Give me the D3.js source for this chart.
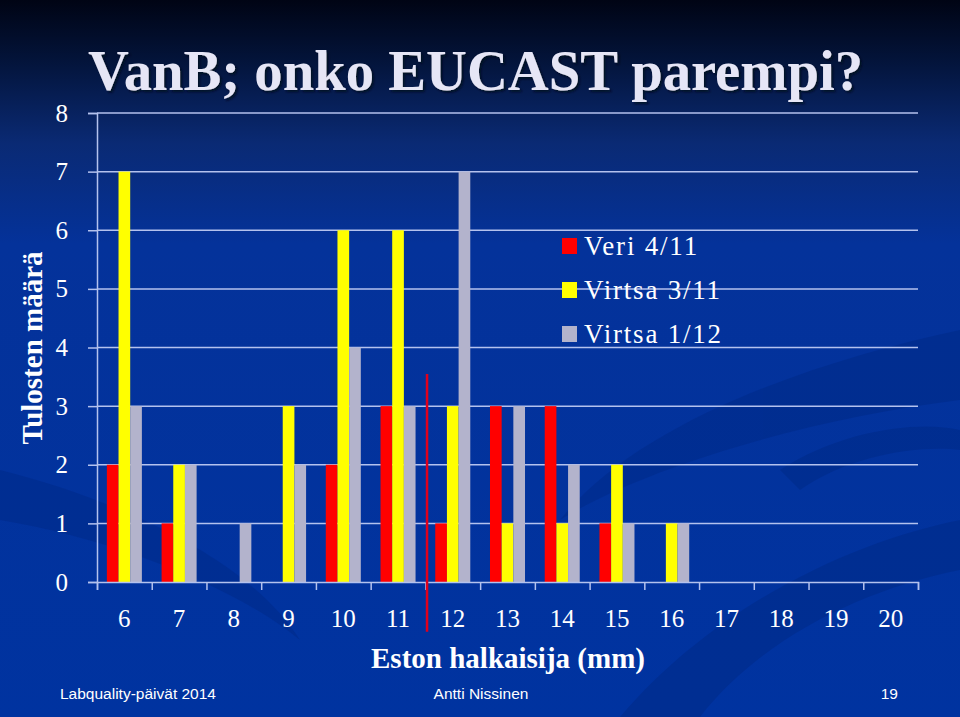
<!DOCTYPE html>
<html><head><meta charset="utf-8">
<script src="https://cdn.jsdelivr.net/npm/d3@7"></script>
<style>
html,body{margin:0;padding:0;background:#0033a0;}
svg{display:block;}
</style></head>
<body>
<script>
// ---- data ----
const categories = ["6","7","8","9","10","11","12","13","14","15","16","17","18","19","20"];
const seriesNames = ["Veri 4/11","Virtsa 3/11","Virtsa 1/12"];
const veri = [2,1,0,0,2,3,1,3,3,1,0,0,0,0,0];
const virtsa311 = [7,2,0,3,6,6,3,1,1,2,1,0,0,0,0];
const virtsa112 = [3,2,1,2,4,3,7,3,2,1,1,0,0,0,0];
const yTicks = [0,1,2,3,4,5,6,7,8];
const cutoffMm = 11.53;          // red breakpoint line (in mm units)
const cutoffSpan = [3.55, -0.85]; // vertical extent of line in count units
const colors = ["#ff0000","#ffff00","#b3b3cc"];
const title = "VanB; onko EUCAST parempi?";
const xTitle = "Eston halkaisija (mm)";
const yTitle = "Tulosten määrä";
const footer = ["Labquality-päivät 2014","Antti Nissinen","19"];

const W=960,H=717;
const svg=d3.select("body").append("svg").attr("width",W).attr("height",H);
const defs=svg.append("defs");
const bg=defs.append("linearGradient").attr("id","bg").attr("x1",0).attr("y1",0).attr("x2",0).attr("y2",1);
bg.append("stop").attr("offset","0").attr("stop-color","#000414");
bg.append("stop").attr("offset","0.08").attr("stop-color","#031338");
bg.append("stop").attr("offset","0.2").attr("stop-color","#0a2a74");
bg.append("stop").attr("offset","0.34").attr("stop-color","#04329a");
bg.append("stop").attr("offset","1").attr("stop-color","#0033a0");
svg.append("rect").attr("width",W).attr("height",H).attr("fill","url(#bg)");
const sh=defs.append("filter").attr("id","shadow").attr("x","-5%").attr("y","-20%").attr("width","110%").attr("height","150%");
sh.append("feDropShadow").attr("dx",2).attr("dy",2).attr("stdDeviation",1).attr("flood-color","#000820").attr("flood-opacity",0.85);

// subtle swooshes
const sw=svg.append("g").attr("fill","#002a88").attr("opacity",0.55);
sw.append("path").attr("d","M960,330 C820,360 640,420 560,520 C640,470 800,420 960,400 Z");
sw.append("path").attr("d","M960,520 C860,540 720,600 620,717 L700,717 C760,640 860,590 960,570 Z");
sw.append("path").attr("d","M0,470 C120,500 250,560 300,640 C240,590 120,540 0,520 Z");
sw.append("path").attr("d","M780,470 C840,430 920,420 960,430 L960,450 C920,445 850,455 800,490 Z");

// ---- scales ----
const plotL=97, plotR=918, y0=582, yTop=113;
const y=d3.scaleLinear().domain([0,8]).range([y0,yTop]);
const x0=d3.scaleBand().domain(categories).range([plotL,plotR]).paddingInner(0.36).paddingOuter(0.18);
const x1=d3.scaleBand().domain(seriesNames).range([0,x0.bandwidth()]);
const xmm=d3.scaleLinear().domain([5.5,20.5]).range([plotL,plotR]);

const gridColor="#b4c2ee";
// gridlines + y axis
const yAxis=svg.append("g").attr("transform",`translate(${plotL},0)`)
  .call(d3.axisLeft(y).tickValues(yTicks).tickSize(9).tickPadding(20).tickFormat(d3.format("d")));
yAxis.select(".domain").attr("stroke",gridColor).attr("stroke-width",1.5);
yAxis.selectAll(".tick line").attr("stroke",gridColor).attr("stroke-width",1.5);
yAxis.selectAll(".tick text").attr("fill","#fff").attr("font-family","Liberation Serif, serif").attr("font-size",25);
svg.append("g").selectAll("line").data(yTicks.filter(d=>d>0)).join("line")
  .attr("x1",plotL).attr("x2",plotR).attr("y1",d=>y(d)).attr("y2",d=>y(d))
  .attr("stroke",gridColor).attr("stroke-width",1.5);

// bars
const data=categories.map((c,i)=>({c,vals:[veri[i],virtsa311[i],virtsa112[i]]}));
svg.append("g").selectAll("g").data(data).join("g")
  .attr("transform",d=>`translate(${x0(d.c)},0)`)
  .selectAll("rect").data(d=>d.vals.map((v,k)=>({v,k}))).join("rect")
  .attr("x",d=>x1(seriesNames[d.k])).attr("width",x1.bandwidth())
  .attr("y",d=>y(d.v)).attr("height",d=>y(0)-y(d.v))
  .attr("fill",d=>colors[d.k]);

// x axis (boundary ticks)
const xAxis=svg.append("g").attr("transform",`translate(0,${y0})`)
  .call(d3.axisBottom(xmm).tickValues(d3.range(5.5,21,1)).tickSize(8).tickFormat(""));
xAxis.select(".domain").attr("stroke",gridColor).attr("stroke-width",1.5);
xAxis.selectAll(".tick line").attr("stroke",gridColor).attr("stroke-width",1.5);
const xLab=svg.append("g").attr("transform",`translate(0,${y0})`)
  .call(d3.axisBottom(x0).tickSize(0).tickPadding(27));
xLab.select(".domain").remove();
xLab.selectAll(".tick text").attr("fill","#fff").attr("font-family","Liberation Serif, serif").attr("font-size",25);

// cutoff line
svg.append("line").attr("x1",xmm(cutoffMm)).attr("x2",xmm(cutoffMm))
  .attr("y1",y(cutoffSpan[0])).attr("y2",y(cutoffSpan[1]))
  .attr("stroke","#e0001c").attr("stroke-width",2.5);

// legend
const lg=svg.append("g").attr("transform","translate(562,246)");
seriesNames.forEach((s,k)=>{
  const g=lg.append("g").attr("transform",`translate(0,${k*44})`);
  g.append("rect").attr("x",0).attr("y",-8).attr("width",15).attr("height",16).attr("fill",colors[k]);
  g.append("text").attr("x",22).attr("y",9).attr("fill","#fff")
   .attr("font-family","Liberation Serif, serif").attr("font-size",27).attr("letter-spacing",1.8).text(s);
});

// title with shadow
svg.append("text").attr("x",88).attr("y",90).attr("fill","#e6e6f6").attr("filter","url(#shadow)")
  .attr("font-family","Liberation Serif, serif").attr("font-weight","bold").attr("font-size",58)
  .attr("textLength",775).attr("lengthAdjust","spacingAndGlyphs").text(title);

// axis titles
svg.append("text").attr("x",508).attr("y",668).attr("text-anchor","middle").attr("fill","#fff")
  .attr("font-family","Liberation Serif, serif").attr("font-weight","bold").attr("font-size",29).text(xTitle);
svg.append("text").attr("transform","translate(42,348) rotate(-90)").attr("text-anchor","middle").attr("fill","#fff")
  .attr("font-family","Liberation Serif, serif").attr("font-weight","bold").attr("font-size",29).text(yTitle);

// footer
const ff="Liberation Sans, Arial, sans-serif";
svg.append("text").attr("x",60).attr("y",699).attr("fill","#fff").attr("font-family",ff).attr("font-size",15.5).text(footer[0]);
svg.append("text").attr("x",481).attr("y",699).attr("text-anchor","middle").attr("fill","#fff").attr("font-family",ff).attr("font-size",15.5).text(footer[1]);
svg.append("text").attr("x",898).attr("y",699).attr("text-anchor","end").attr("fill","#fff").attr("font-family",ff).attr("font-size",15.5).text(footer[2]);
</script>
</body></html>
